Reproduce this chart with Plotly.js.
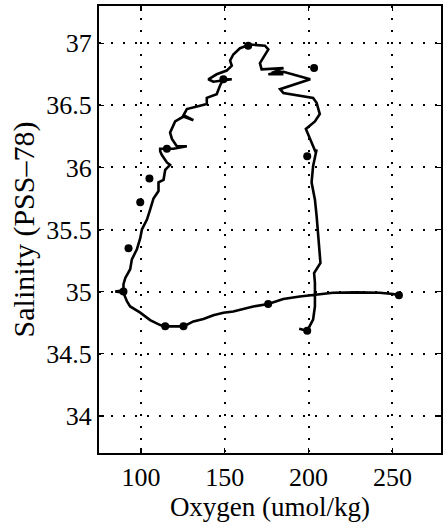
<!DOCTYPE html>
<html><head><meta charset="utf-8">
<script src="https://cdn.plot.ly/plotly-3.0.1.min.js"></script>
<style>html,body{margin:0;padding:0;background:#fff}#chart{width:444px;height:527px}</style>
</head><body><div id="chart"></div>
<script>
// CTD profile (oxygen umol/kg, salinity PSS-78)
var ctdOxygen = [253.9,250.4,242.4,228.6,214.6,203.8,194.8,184.9,175.9,167,155.1,149.2,143.2,137.3,131.3,125.4,119.4,114.5,111.5,105.5,99.6,93.6,91.7,89.6,84.7,89.6,89.6,90.7,93.6,94.6,97.6,99.6,100.6,103.6,105.5,107.5,110.5,110.5,113.5,114.5,117.4,115.5,112.5,111.5,111.5,115.5,119.4,127.4,121.4,118.5,117.4,120.4,125.4,131.3,125.4,127.4,133.3,139.3,139.3,145.2,147.2,149.2,154.2,147,143.2,140.2,145.2,151.2,154.2,153.2,155.1,159.1,165,174,176,171,172,185,178,185,176,185,201,183,185,202.7,204.8,206.7,203.8,198.4,204.3,204.8,202.7,201.8,203.8,204.8,205.7,206.7,207.1,203.3,203.8,203.8,203.8,202.7,199.2,194.4];
var ctdSalinity = [34.97,34.98,34.99,34.994,34.99,34.976,34.96,34.94,34.90,34.88,34.84,34.83,34.81,34.78,34.76,34.72,34.72,34.72,34.73,34.77,34.83,34.88,34.92,34.99,35.00,35.01,35.06,35.11,35.18,35.26,35.34,35.43,35.50,35.58,35.66,35.75,35.81,35.88,35.90,35.98,36.02,36.04,36.10,36.13,36.15,36.15,36.15,36.17,36.17,36.23,36.28,36.37,36.41,36.38,36.42,36.47,36.49,36.51,36.56,36.59,36.66,36.71,36.71,36.70,36.69,36.71,36.75,36.78,36.82,36.86,36.91,36.96,36.99,36.98,36.95,36.84,36.79,36.80,36.76,36.75,36.75,36.77,36.71,36.63,36.60,36.56,36.52,36.43,36.37,36.31,36.12,36.145,36.01,35.88,35.74,35.61,35.47,35.34,35.23,35.15,35.07,34.976,34.88,34.774,34.685,34.70];
// Bottle samples
var bottleOxygen = [253.9,175.9,125.4,114.5,89.6,92.6,99.6,105.1,115.5,149.2,164,203.3,199.2,199.2];
var bottleSalinity = [34.97,34.90,34.72,34.72,35.00,35.35,35.72,35.91,36.15,36.71,36.98,36.80,36.09,34.685];
var xTicks = [100,150,200,250];
var yTicks = [34,34.5,35,35.5,36,36.5,37];

var fam = '"Liberation Serif", "Times New Roman", serif';
var tickFont = {family:fam, size:26, color:'#000'};
var axisCommon = {
  showline:true, linecolor:'#000', linewidth:2, mirror:'ticks',
  ticks:'inside', ticklen:5, tickcolor:'#000', tickwidth:1.5,
  showgrid:true, gridcolor:'#000', gridwidth:2, griddash:'2px,10px',
  zeroline:false, tickfont:tickFont
};
var traces = [
  {x:ctdOxygen, y:ctdSalinity, mode:'lines', line:{color:'#000', width:2.6}, hoverinfo:'skip'},
  {x:bottleOxygen, y:bottleSalinity, mode:'markers', marker:{color:'#000', size:8}}
];
var layout = {
  width:444, height:527, showlegend:false,
  paper_bgcolor:'#fff', plot_bgcolor:'#fff',
  margin:{l:99, r:3, t:6, b:74},
  font:tickFont,
  xaxis:Object.assign({}, axisCommon, {range:[75,279], tickvals:xTicks, ticktext:xTicks.map(String),
    title:{text:'Oxygen (umol/kg)', font:{family:fam, size:27, color:'#000'}, standoff:0}}),
  yaxis:Object.assign({}, axisCommon, {range:[33.7,37.3], tickvals:yTicks, ticktext:yTicks.map(String),
    title:{text:'\u00a0\u00a0\u00a0\u00a0Salinity (PSS–78)', font:{family:fam, size:30, color:'#000'}, standoff:3}})
};
Plotly.newPlot('chart', traces, layout, {displayModeBar:false, staticPlot:true});
</script></body></html>
